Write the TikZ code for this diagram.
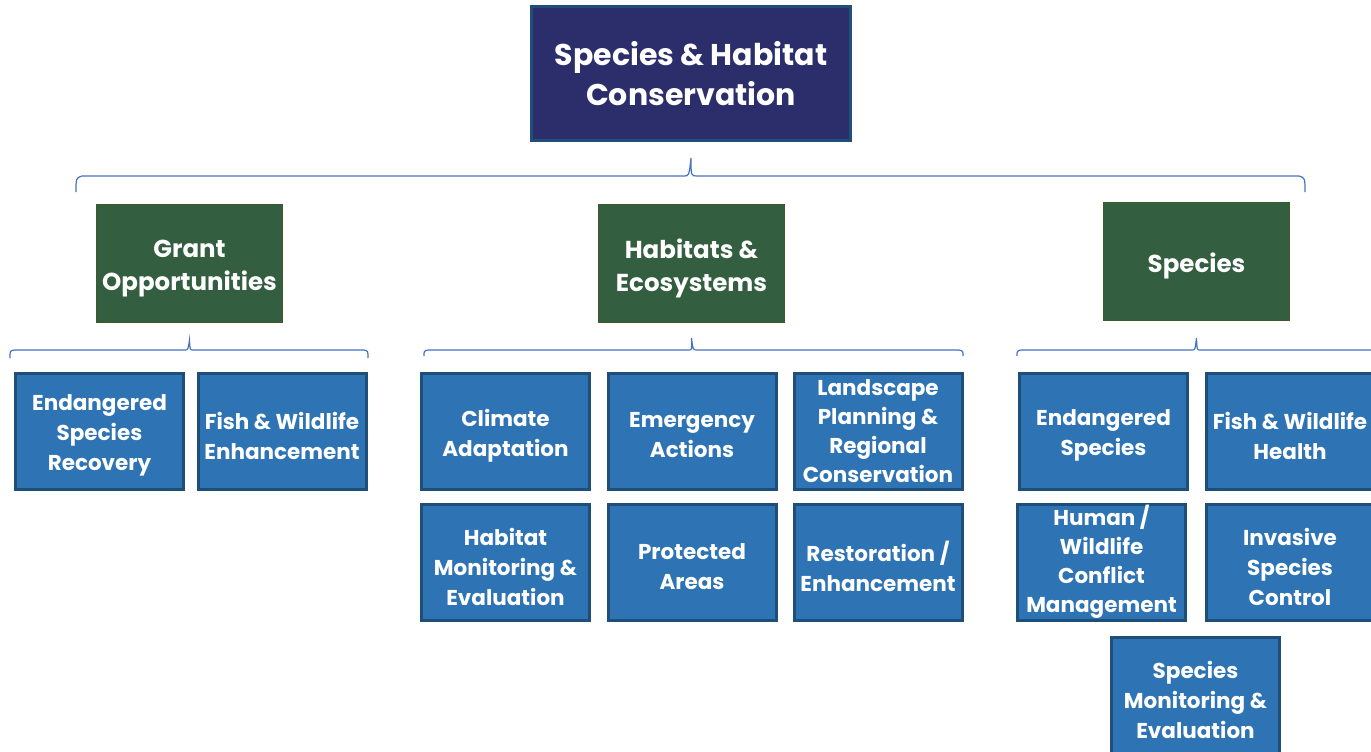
\documentclass[tikz,border=0pt]{standalone}
\usepackage{fontspec}
\setmainfont{Poppins}
\definecolor{navyfill}{HTML}{2B2E6B}
\definecolor{navyedge}{HTML}{1F4E79}
\definecolor{greenfill}{HTML}{335E3F}
\definecolor{greenedge}{HTML}{3D5A2A}
\definecolor{bluefill}{HTML}{2E74B5}
\definecolor{blueedge}{HTML}{1F4E79}
\definecolor{bracecol}{HTML}{4472C4}
\begin{document}
\begin{tikzpicture}[x=1pt,y=-1pt,
  topbox/.style={draw=navyedge,fill=navyfill,line width=3pt,minimum width=319pt,minimum height=134pt,text=white,align=center,inner sep=0pt,font=\bfseries\fontsize{30}{40}\selectfont},
  greenbox/.style={draw=greenedge,fill=greenfill,line width=1.2pt,minimum width=186pt,minimum height=118pt},
  gtext/.style={text=white,align=center,inner sep=0pt,font=\bfseries\fontsize{24.5}{33}\selectfont,yshift=-5pt},
  bluebox/.style={draw=blueedge,fill=bluefill,line width=3pt,minimum width=168pt,minimum height=116pt},
  btext/.style={text=white,align=center,inner sep=0pt,font=\bfseries\fontsize{21.5}{30}\selectfont,yshift=-4pt},
  btextfour/.style={text=white,align=center,inner sep=0pt,font=\bfseries\fontsize{21.5}{29}\selectfont,yshift=0.3pt},
  bracestyle/.style={draw=bracecol,line width=1.2pt}]
\useasboundingbox (0,0) rectangle (1371,752);
\clip (0,0) rectangle (1371,752);
% top
\node[topbox] (root) at (691,73.5) {Species \& Habitat\\Conservation};
% green
\node[greenbox,label={[gtext]center:Grant\\Opportunities}] (grant) at (189.5,263.5) {};
\node[greenbox,label={[gtext]center:Habitats \&\\Ecosystems}] (hab) at (691.5,263.5) {};
\node[greenbox,label={[gtext,yshift=1pt]center:Species}] (spec) at (1196.5,261.5) {};
% blue: grant
\node[bluebox,label={[btext]center:Endangered\\Species\\Recovery}] (esr) at (99.5,431.5) {};
\node[bluebox,label={[btext]center:Fish \& Wildlife\\Enhancement}] (fwe) at (282,431.5) {};
% blue: habitats
\node[bluebox,label={[btext]center:Climate\\Adaptation}] (clim) at (505.5,431.5) {};
\node[bluebox,label={[btext]center:Emergency\\Actions}] (emer) at (692,431.5) {};
\node[bluebox,label={[btextfour]center:Landscape\\Planning \&\\Regional\\Conservation}] (land) at (878,431.5) {};
\node[bluebox,label={[btext]center:Habitat\\Monitoring \&\\Evaluation}] (hme) at (505.5,562.5) {};
\node[bluebox,label={[btext]center:Protected\\Areas}] (prot) at (692,562.5) {};
\node[bluebox,label={[btext]center:Restoration /\\Enhancement}] (rest) at (878,562.5) {};
% blue: species
\node[bluebox,label={[btext]center:Endangered\\Species}] (endsp) at (1103.5,431.5) {};
\node[bluebox,label={[btext]center:Fish \& Wildlife\\Health}] (fwh) at (1290,431.5) {};
\node[bluebox,label={[btextfour]center:Human /\\Wildlife\\Conflict\\Management}] (hwc) at (1101.5,562.5) {};
\node[bluebox,label={[btext]center:Invasive\\Species\\Control}] (inv) at (1290,562.5) {};
\node[bluebox,label={[btext]center:Species\\Monitoring \&\\Evaluation}] (smo) at (1195.5,695.5) {};
% braces
\coordinate (t0) at (root.south |- 0,158);
\draw[bracestyle] (76,192) .. controls (76,178) .. (82,176) -- (684,176) .. controls (689,176) .. (t0) .. controls (691,176) .. (697,176) -- (1299,176) .. controls (1305,178) .. (1305,192);
\coordinate (t1) at (grant.south |- 0,340);
\draw[bracestyle] (10,358) .. controls (10,351) .. (14,350) -- (185,350) .. controls (188,350) .. (t1) .. controls (190,350) .. (193,350) -- (364,350) .. controls (368,351) .. (368,358);
\coordinate (t2) at (hab.south |- 0,338);
\draw[bracestyle] (424,356) .. controls (424,351) .. (428,350) -- (689,350) .. controls (692,350) .. (t2) .. controls (693,350) .. (697,350) -- (959,350) .. controls (963,351) .. (963,356);
\coordinate (t3) at (spec.south |- 0,338);
\draw[bracestyle] (1017,356) .. controls (1017,351) .. (1021,350) -- (1192,350) .. controls (1195,350) .. (t3) .. controls (1197,350) .. (1200,350) -- (1380,350);
\end{tikzpicture}
\end{document}
